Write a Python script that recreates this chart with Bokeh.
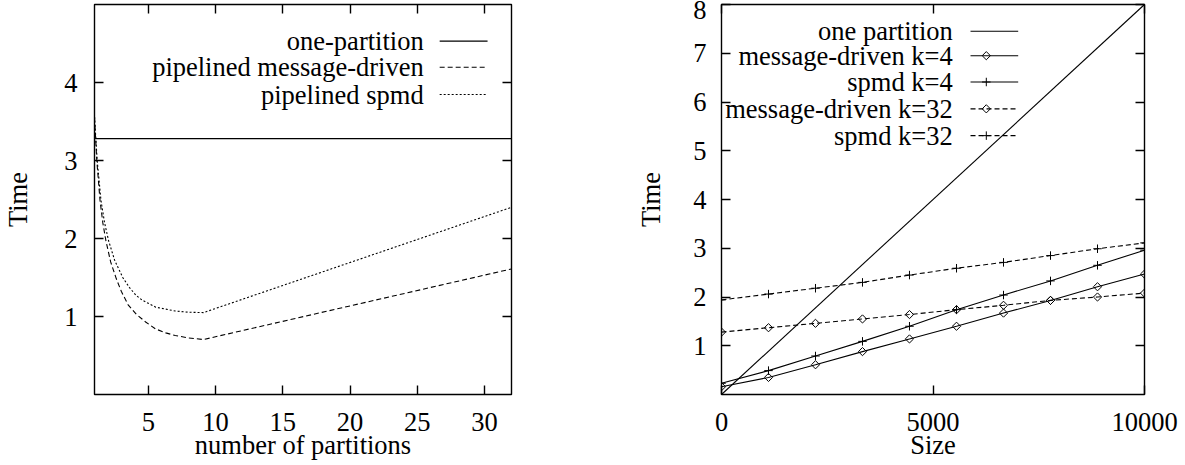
import numpy as np
from bokeh.plotting import figure
from bokeh.models import LinearAxis, FixedTicker, Range1d, CustomLabelingPolicy
from bokeh.layouts import row
from bokeh.core.properties import value
from bokeh.embed import file_html
from bokeh.resources import INLINE

# ---------------- data: left chart ----------------
one_part_k = [1, 32]
one_part_t = [3.28, 3.28]

md_k = [1, 1.17, 1.41, 1.62, 1.85, 2.2, 2.63, 3.0, 3.5, 4.1, 4.8, 5.55, 6.3, 7.0, 8.0, 9.1, 32]
md_t = [3.56, 3.0, 2.49, 2.2, 1.97, 1.70, 1.48, 1.32, 1.15, 1.03, 0.93, 0.84, 0.79, 0.756, 0.725, 0.705, 1.61]

sp_k = [1, 1.2, 1.48, 1.75, 2.05, 2.5, 3.1, 3.6, 4.1, 4.54, 5.55, 7.0, 8.0, 9.1, 32]
sp_t = [3.56, 3.0, 2.49, 2.2, 1.97, 1.72, 1.50, 1.37, 1.27, 1.21, 1.12, 1.07, 1.055, 1.05, 2.40]

left_labels = ["one-partition", "pipelined message-driven", "pipelined spmd"]
left_xticks = [5, 10, 15, 20, 25, 30]
left_yticks = [1, 2, 3, 4]

# ---------------- data: right chart ----------------
one_size = [0, 10000]
one_time = [0.0, 8.0]

sizes = [0, 1111, 2222, 3333, 4444, 5556, 6667, 7778, 8889, 10000]
md4 = [0.16, 0.35, 0.61, 0.88, 1.14, 1.40, 1.67, 1.93, 2.21, 2.47]
spmd4 = [0.23, 0.49, 0.79, 1.09, 1.40, 1.74, 2.04, 2.33, 2.65, 2.96]
md32 = [1.28, 1.37, 1.46, 1.55, 1.64, 1.74, 1.83, 1.93, 2.00, 2.08]
spmd32 = [1.94, 2.06, 2.18, 2.30, 2.45, 2.59, 2.71, 2.85, 2.99, 3.11]

right_labels = ["one partition", "message-driven k=4", "spmd k=4",
                "message-driven k=32", "spmd k=32"]
right_xticks = [0, 5000, 10000]
right_yticks = [1, 2, 3, 4, 5, 6, 7, 8]

FONT = "Liberation Serif"
FS = "26.5px"
LW = 1.1
DASH = "5 3"
DOT = "2 2"

NO_LABELS = CustomLabelingPolicy(code="""
for (let i = 0; i < indices.size; i++) { indices.unset(i) }
return indices
""")


def style_axis(ax, ticks, show=True):
    ax.ticker = FixedTicker(ticks=ticks)
    ax.axis_line_color = None
    ax.major_tick_in = 9
    ax.major_tick_out = 0
    ax.minor_tick_line_color = None
    ax.major_tick_line_color = "black"
    ax.major_tick_line_width = 1.4
    ax.major_label_text_font = FONT
    ax.major_label_text_font_size = FS
    ax.major_label_text_color = "black"
    ax.axis_label_text_font = FONT
    ax.axis_label_text_font_size = FS
    ax.axis_label_text_font_style = "normal"
    ax.axis_label_text_color = "black"
    if not show:
        # mirror axis: ticks only, no labels and no reserved space
        ax.major_label_policy = NO_LABELS
        ax.major_label_text_font_size = "0px"
        ax.major_label_standoff = 0


def base_fig(width, xr, yr, bl, br, xticks, yticks, xlabel, ylabel):
    p = figure(width=width, height=465, x_range=Range1d(*xr), y_range=Range1d(*yr),
               output_backend="svg", toolbar_location=None,
               min_border_left=bl, min_border_right=br,
               min_border_top=4, min_border_bottom=71)
    p.grid.visible = False
    p.outline_line_color = "black"
    p.outline_line_width = 1.4
    p.background_fill_color = "white"
    p.border_fill_color = "white"
    style_axis(p.xaxis[0], xticks)
    style_axis(p.yaxis[0], yticks)
    p.xaxis[0].axis_label = xlabel
    p.yaxis[0].axis_label = ylabel
    p.xaxis[0].major_label_standoff = 18
    p.xaxis[0].axis_label_standoff = -4
    ax_r = LinearAxis()
    style_axis(ax_r, yticks, show=False)
    p.add_layout(ax_r, "right")
    ax_t = LinearAxis()
    style_axis(ax_t, xticks, show=False)
    p.add_layout(ax_t, "above")
    return p


# ---------------- left chart ----------------
p1 = base_fig(560, (1, 32), (0, 5), 87, 49, left_xticks, left_yticks,
              "number of partitions", "Time")
p1.yaxis[0].major_label_standoff = 17
p1.yaxis[0].axis_label_standoff = 28

p1.line(one_part_k, one_part_t, line_color="black", line_width=LW)
p1.line(md_k, md_t, line_color="black", line_width=LW, line_dash=DASH)
p1.line(sp_k, sp_t, line_color="black", line_width=LW, line_dash=DOT)

# legend (gnuplot style: text then sample)
ly = [4.53, 4.196, 3.846]
p1.text(x=[25.47] * 3, y=ly, text=left_labels, text_align="right",
        text_baseline="middle", text_font=value(FONT), text_font_size=FS,
        text_color="black")
for yy, dash in zip(ly, ["solid", DASH, DOT]):
    p1.segment(x0=[26.66], y0=[yy], x1=[30.22], y1=[yy], line_color="black",
               line_width=LW, line_dash=dash)

# ---------------- right chart ----------------
p2 = base_fig(625, (0, 10000), (0, 8), 161, 41, right_xticks, right_yticks,
              "Size", "Time")
p2.yaxis[0].major_label_standoff = 15
p2.yaxis[0].axis_label_standoff = 24

p2.line(one_size, one_time, line_color="black", line_width=LW)
series = [(md4, "solid", "diamond"), (spmd4, "solid", "plus"),
          (md32, DASH, "diamond"), (spmd32, DASH, "plus")]


def draw_marker(p, xs, ys, kind):
    if kind == "diamond":
        p.scatter(xs, ys, marker="square", size=5.8, angle=np.pi / 4,
                  fill_color=None, line_color="black", line_width=1)
    else:
        p.scatter(xs, ys, marker="cross", size=8.5, line_color="black", line_width=1)


for vals, dash, kind in series:
    p2.line(sizes, vals, line_color="black", line_width=LW, line_dash=dash)
    draw_marker(p2, sizes, vals, kind)

ry = [7.45, 6.95, 6.41, 5.86, 5.31]
p2.text(x=[5468] * 5, y=ry, text=right_labels, text_align="right",
        text_baseline="middle", text_font=value(FONT), text_font_size=FS,
        text_color="black")
leg_styles = [("solid", None), ("solid", "diamond"), ("solid", "plus"),
              (DASH, "diamond"), (DASH, "plus")]
for yy, (dash, kind) in zip(ry, leg_styles):
    p2.segment(x0=[5887], y0=[yy], x1=[7014], y1=[yy], line_color="black",
               line_width=LW, line_dash=dash)
    if kind:
        draw_marker(p2, [6260], [yy], kind)

layout = row(p1, p2)
open("out.html", "w").write(file_html(layout, INLINE))
